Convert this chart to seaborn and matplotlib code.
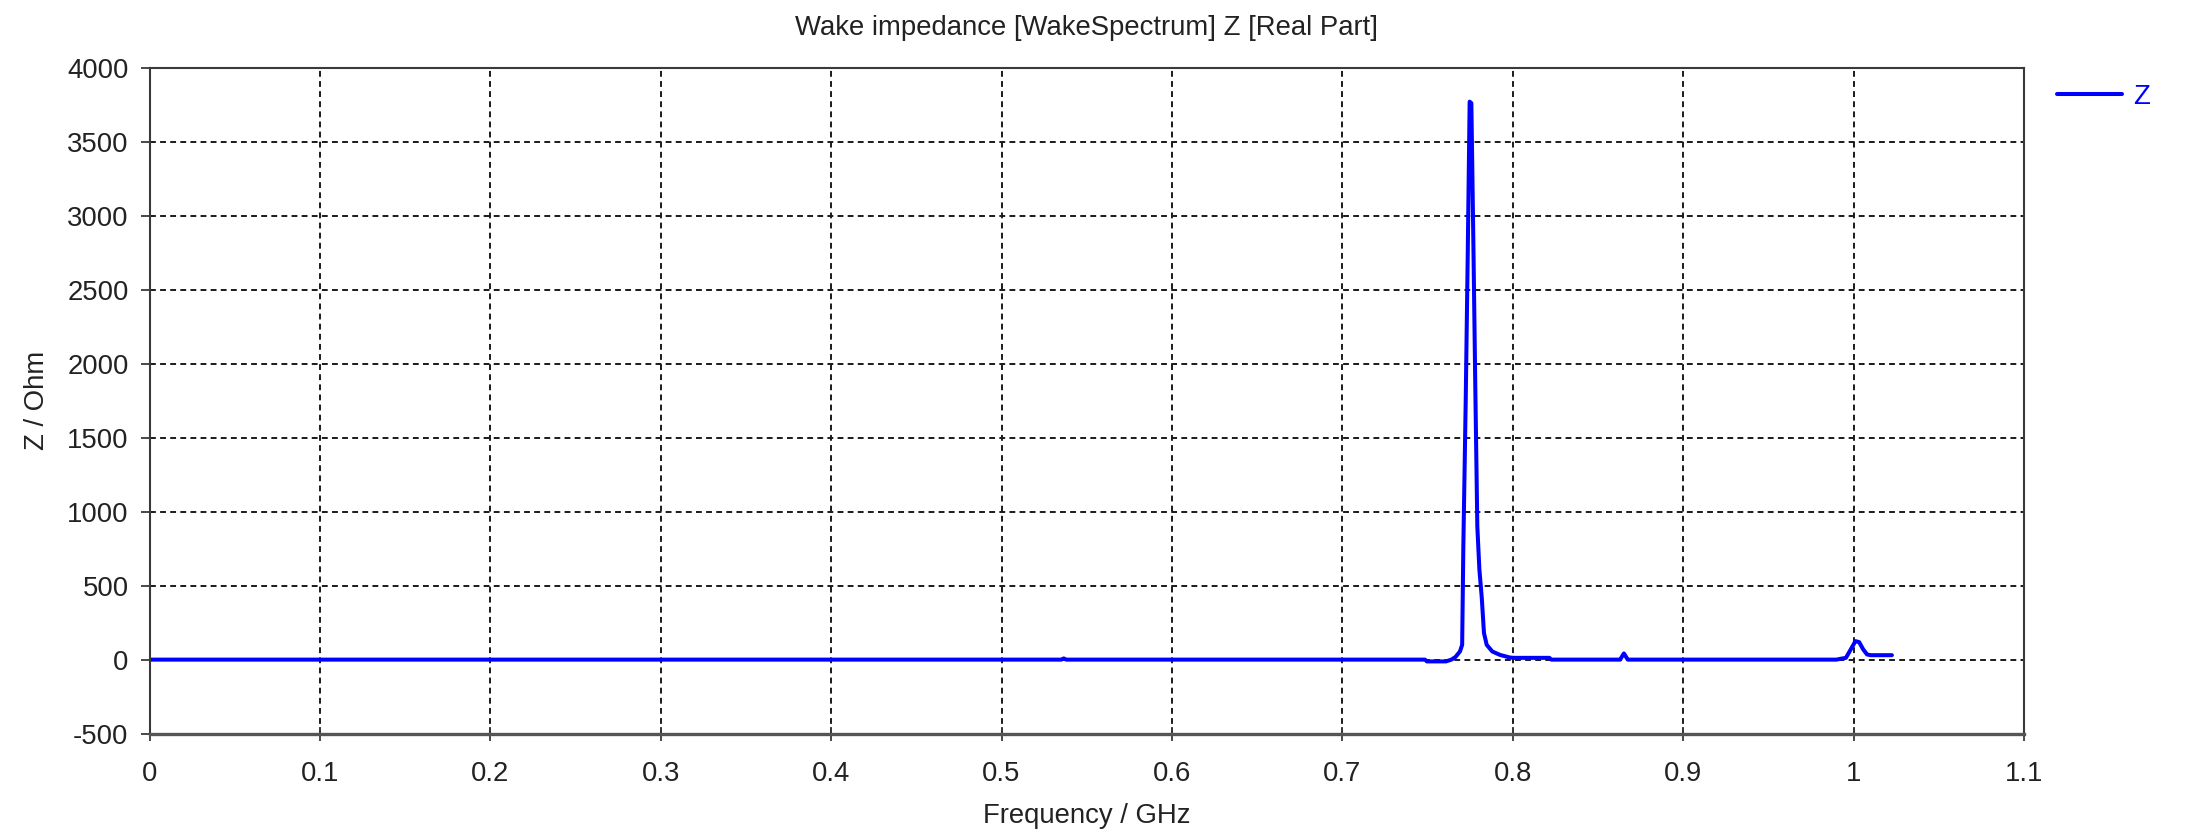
import matplotlib
matplotlib.use("Agg")
import matplotlib.pyplot as plt
import seaborn as sns

# Real part of the wake impedance spectrum (frequency in GHz, impedance in Ohm)
freq_ghz = [0.000, 0.535, 0.5365, 0.538, 0.7485, 0.7496, 0.7608, 0.7640,
            0.7664, 0.7690, 0.7703, 0.7710, 0.7724, 0.7736, 0.7747, 0.7757,
            0.7769, 0.7780, 0.7792, 0.7804, 0.7818, 0.7831, 0.7847, 0.7880,
            0.7925, 0.7984, 0.8010, 0.8100, 0.8215, 0.8226, 0.8630, 0.8652,
            0.8675, 0.9899, 0.9930, 0.9955, 0.9978, 1.0011, 1.0033, 1.0056,
            1.0079, 1.0100, 1.0225]
z_real = [0, 0, 8, 0, 0, -12, -12, 0,
          18, 55, 100, 770, 1760, 2760, 3770, 3760,
          2800, 1850, 900, 610, 420, 180, 100, 55,
          32, 14, 12, 12, 12, 0, 0, 42,
          0, 0, 7, 12, 58, 125, 118, 70,
          35, 30, 30]

x_ticks = [0, 0.1, 0.2, 0.3, 0.4, 0.5, 0.6, 0.7, 0.8, 0.9, 1.0, 1.1]
x_tick_labels = ["0", "0.1", "0.2", "0.3", "0.4", "0.5", "0.6", "0.7",
                 "0.8", "0.9", "1", "1.1"]
y_ticks = [-500, 0, 500, 1000, 1500, 2000, 2500, 3000, 3500, 4000]

sns.set_theme(style="white")
plt.rcParams["font.family"] = ["Liberation Sans", "DejaVu Sans"]
plt.rcParams["axes.unicode_minus"] = False

text_color = "#222222"
frame_color = "#3a3a3a"
font_size = 19.8

fig = plt.figure(figsize=(22.12, 8.35), dpi=100)
ax = fig.add_axes([0.0676, 0.1214, 0.9150 - 0.0676, 0.9190 - 0.1214])

sns.lineplot(x=freq_ghz, y=z_real, ax=ax, color="#0000ff", linewidth=2.9,
             label="Z", estimator=None)

ax.set_xlim(0, 1.1)
ax.set_ylim(-500, 4000)
ax.set_xticks(x_ticks)
ax.set_xticklabels(x_tick_labels)
ax.set_yticks(y_ticks)

ax.grid(True, color="#1a1a1a", linewidth=1.4, linestyle=(0, (3.0, 2.2)))
ax.set_axisbelow(True)

for side in ["left", "right", "top"]:
    ax.spines[side].set_color(frame_color)
    ax.spines[side].set_linewidth(1.5)
ax.spines["bottom"].set_color("#555555")
ax.spines["bottom"].set_linewidth(2.4)

ax.tick_params(axis="y", direction="out", length=6.5, width=1.3,
               color=frame_color, labelsize=font_size, labelcolor=text_color,
               pad=8.6, left=True)
ax.tick_params(axis="x", direction="inout", length=10, width=1.3,
               color=frame_color, labelsize=font_size, labelcolor=text_color,
               pad=15, bottom=True)

ax.set_title("Wake impedance [WakeSpectrum] Z [Real Part]", fontsize=font_size,
             color=text_color, pad=23.5)
ax.set_xlabel("Frequency / GHz", fontsize=font_size, color=text_color,
              labelpad=11)
ax.set_ylabel("Z / Ohm", fontsize=font_size, color=text_color, labelpad=12)

leg = ax.legend(loc="center left", bbox_to_anchor=(0.930, 1 - 97 / 835),
                bbox_transform=fig.transFigure, frameon=False, borderpad=0,
                borderaxespad=0, handlelength=2.37, handletextpad=0.4,
                fontsize=font_size)
for txt in leg.get_texts():
    txt.set_color("#0000ff")

fig.savefig("out.png", dpi=100, facecolor="white")
